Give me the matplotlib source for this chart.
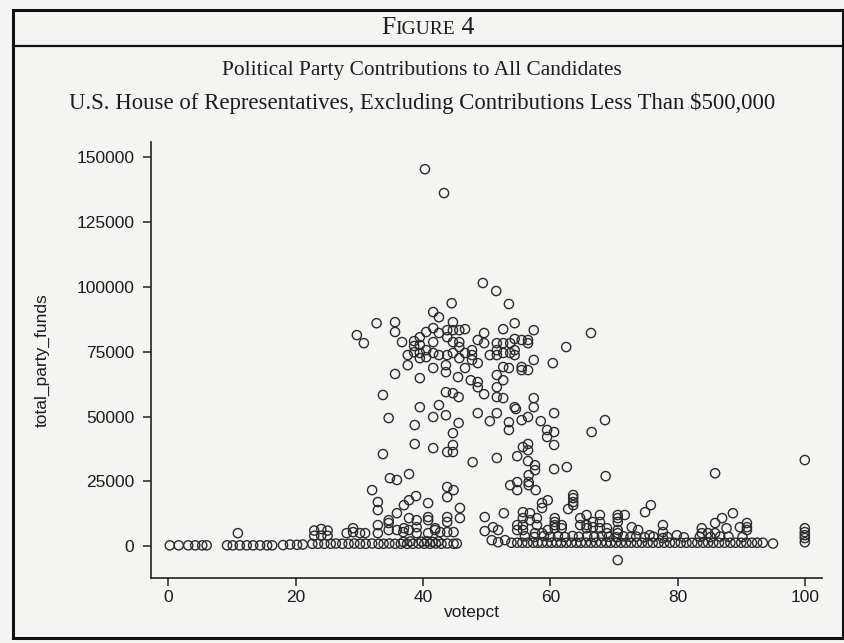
import matplotlib
matplotlib.use("Agg")
import matplotlib.pyplot as plt
from matplotlib.patches import Rectangle
from matplotlib.lines import Line2D
from matplotlib.offsetbox import TextArea, HPacker, AnchoredOffsetbox

# ---------------------------------------------------------------------------
# Data: (votepct, total_party_funds) pairs, grouped by contribution level
# ---------------------------------------------------------------------------
near_zero_low_vote = [
    (0.2, 300), (1.6, 300), (3.1, 300), (4.2, 300), (5.3, 300), (6.0, 300),
    (9.2, 300), (10.1, 300), (11.2, 300), (12.3, 300), (13.3, 300), (14.4, 300),
    (15.5, 300), (16.3, 300), (18.0, 400), (19.1, 600), (20.2, 500), (21.1, 600),
]

near_zero_mid_vote = [
    (22.6, 900), (23.5, 900), (24.5, 900), (25.5, 900), (26.3, 1000), (27.3, 900),
    (28.3, 900), (29.2, 1000), (30.1, 900), (31.0, 900), (32.0, 1000), (33.0, 900),
    (33.8, 900), (34.7, 1000), (35.6, 900), (36.5, 900), (36.9, 1600), (37.5, 900),
    (38.0, 1800), (38.4, 900), (39.3, 1000), (39.8, 1700), (40.2, 900), (40.6, 1900),
    (41.1, 900), (41.5, 1600), (42.0, 1000), (42.4, 1800), (42.9, 900), (43.8, 1000),
    (44.8, 900), (45.3, 1000),
]

near_zero_high_vote = [
    (53.9, 1300), (54.8, 1300), (55.6, 1300), (56.4, 1300), (57.3, 1300), (58.0, 1300),
    (58.7, 1300), (59.5, 1300), (60.2, 1300), (61.0, 1300), (61.7, 1300), (62.5, 1300),
    (63.3, 1300), (64.1, 1300), (64.8, 1300), (65.6, 1300), (66.4, 1300), (67.2, 1300),
    (68.0, 1300), (68.8, 1300), (69.5, 1300), (70.3, 1300), (71.1, 1300), (71.9, 1300),
    (72.7, 1300), (73.6, 1300), (74.4, 1300), (75.3, 1300), (76.1, 1300), (77.0, 1300),
    (77.9, 1300), (78.8, 1300), (79.6, 1300), (80.5, 1300), (81.4, 1300), (82.3, 1300),
    (83.1, 1300), (84.0, 1300), (84.8, 1300), (85.6, 1300), (86.5, 1300), (87.4, 1300),
    (88.3, 1300), (89.1, 1300), (90.0, 1300), (90.8, 1300), (91.7, 1300), (92.5, 1300),
    (93.4, 1300), (95.0, 1000),
    (56.0, 3800), (57.5, 3500), (59.0, 3900), (60.0, 3600), (61.2, 3800), (62.3, 3500),
    (63.5, 3900), (64.5, 3600), (65.8, 3800), (66.9, 3500), (68.1, 3900), (69.2, 3600),
    (70.4, 3400), (71.5, 3800), (72.6, 3500), (73.5, 3700), (74.8, 3400), (76.2, 3600),
    (78.4, 3500), (81.0, 3400), (83.5, 3600), (85.2, 3500), (86.7, 3700), (88.0, 3600),
    (90.2, 3500),
]

modest_funds = [
    (10.9, 5000),
    (22.9, 6000), (24.0, 6600), (25.0, 6000), (22.9, 4000), (24.0, 4000), (25.0, 4000),
    (28.0, 5000), (29.0, 5400), (29.0, 6900), (30.1, 5000), (30.9, 5000),
    (32.9, 5000), (32.9, 8100), (32.9, 13900), (32.9, 17000), (32.0, 21600),
    (34.6, 6200), (34.6, 8900), (34.6, 10000),
    (35.9, 6200), (35.9, 12700),
    (36.9, 5400), (37.0, 6900), (37.0, 15800),
    (37.8, 6200), (37.8, 10800), (37.8, 17700), (37.8, 27800),
    (39.0, 5000), (39.0, 7300), (39.0, 10000), (38.9, 19300),
    (34.8, 26200), (35.9, 25500),
    (40.8, 5000), (40.8, 10000), (40.8, 11200), (40.8, 16600),
    (41.9, 6200), (41.9, 6900), (42.7, 5400),
    (43.8, 5400), (43.8, 9300), (43.8, 11200), (43.8, 18900), (43.8, 22800),
    (44.8, 5400), (44.8, 21600),
    (45.8, 10800), (45.8, 14700),
    (47.8, 32400), (51.6, 34000), (54.8, 34700),
    (49.7, 11200), (49.7, 5800), (51.0, 7300), (51.8, 6200),
    (50.8, 2300), (51.8, 1500), (52.9, 2300),
    (52.7, 12700),
    (53.7, 23500), (54.8, 24700), (54.8, 21600),
    (54.8, 8100), (54.8, 6200), (55.7, 8100), (55.7, 6200),
    (55.7, 13100), (56.8, 12700), (55.7, 10800), (56.8, 10000),
    (55.7, 38200), (56.5, 39400), (56.5, 37000),
    (56.5, 32800), (57.6, 31200), (57.6, 29300),
    (56.6, 27400), (56.6, 24700), (56.6, 23500),
    (57.7, 21600),
    (57.9, 10800), (57.9, 8100),
    (57.6, 5000), (58.7, 5000), (59.6, 6200),
    (58.7, 16600), (58.7, 14700), (59.6, 17700),
    (60.6, 29700), (62.6, 30500),
    (60.7, 10800), (60.7, 9300), (60.7, 8100), (60.7, 6900),
    (61.8, 8100), (61.8, 6900),
    (63.6, 19700), (63.6, 18500), (63.6, 17000), (63.6, 15800), (62.8, 14300),
    (64.7, 10800), (65.7, 12000),
    (64.7, 8100), (65.7, 8100), (65.7, 6900), (66.7, 9300), (66.7, 7300),
    (67.8, 12000), (67.8, 9300), (67.8, 6900), (68.9, 6900), (68.9, 5000),
    (68.7, 27000),
    (70.6, 12000), (70.6, 10800), (70.6, 9300), (71.7, 12000),
    (70.6, 6200), (70.6, 5000),
    (70.6, -5400),
    (72.8, 7300), (73.8, 6200),
    (74.9, 13100), (75.8, 15800),
    (75.6, 4200),
    (77.7, 8100), (77.7, 5400), (77.7, 3100),
    (79.9, 4200),
    (83.8, 6900), (83.8, 5000), (84.8, 5000), (85.9, 5000),
    (85.9, 8900), (87.0, 10800), (88.7, 12700),
    (87.7, 6900),
    (89.8, 7300), (90.9, 8900), (90.9, 7300), (90.9, 6200),
    (85.9, 28100),
    (100.0, 33200),
    (100.0, 6900), (100.0, 5400), (100.0, 4200), (100.0, 3100), (100.0, 1500),
]

large_funds = [
    (40.3, 145400), (43.3, 136200),
    (49.4, 101500), (51.5, 98400), (53.5, 93400), (44.5, 93700), (41.6, 90300),
    (42.5, 88300),
    (54.4, 86000), (57.4, 83300), (66.4, 82200), (62.5, 76800), (60.4, 70600),
    (57.4, 71800),
    (52.6, 83700), (49.6, 82200),
    (51.6, 78300), (52.6, 78300), (53.7, 78300),
    (54.4, 79900), (55.5, 79500), (56.5, 79500), (56.5, 78300),
    (50.5, 73700), (51.6, 75600), (51.6, 73700), (52.6, 74500), (53.7, 74500),
    (54.4, 75600), (54.4, 73700),
    (52.6, 69100), (53.5, 68700),
    (55.5, 69100), (55.5, 67900), (56.5, 67900),
    (29.6, 81400), (30.7, 78300), (32.7, 86000), (35.6, 86400), (35.6, 82600),
    (36.7, 78700),
    (38.6, 79100), (38.6, 77200), (38.6, 74800),
    (39.5, 80600), (39.5, 77600), (39.5, 74500), (39.5, 72500),
    (40.5, 82600), (40.5, 75600), (40.5, 72900),
    (41.6, 84100), (41.6, 78700), (41.6, 74500),
    (42.5, 82200), (42.5, 73700),
    (43.8, 83300), (43.8, 80600), (43.8, 73700),
    (44.7, 86400), (44.7, 83300), (44.7, 78700), (44.7, 74500),
    (45.7, 83300), (45.7, 78700), (45.7, 76800), (45.7, 72500),
    (46.6, 83700), (46.6, 74500),
    (47.7, 75600), (47.7, 73700), (47.7, 71800),
    (48.6, 79500), (48.6, 70600),
    (49.6, 78300),
    (37.6, 73700), (37.6, 69800),
    (35.6, 66400), (39.5, 64800), (41.6, 68700), (43.6, 69800), (43.6, 67100),
    (46.6, 68700), (45.5, 65200), (47.5, 64000), (48.6, 63300), (48.6, 61300),
    (51.6, 66000), (51.6, 61300), (52.6, 64000),
    (33.7, 58300), (39.5, 53600), (42.5, 54400),
    (43.6, 59400), (44.7, 59000), (45.6, 57500),
    (49.6, 58600), (51.6, 57500), (52.6, 57100), (54.4, 53600), (57.4, 57100),
    (57.4, 53600),
    (34.6, 49400), (41.6, 49800), (43.6, 50500), (38.7, 46700), (45.6, 47500),
    (44.7, 43600),
    (48.6, 51300), (50.5, 48200), (51.6, 51300), (54.6, 52900), (53.5, 47800),
    (53.5, 44800),
    (55.5, 48600), (56.5, 49800), (58.5, 48200), (59.5, 44800), (60.6, 44000),
    (59.5, 42100),
    (60.6, 51300), (60.6, 39000), (66.5, 44000), (68.6, 48600),
    (38.7, 39400), (41.6, 37800), (43.8, 36300), (44.7, 39000), (44.7, 36300),
    (33.7, 35500),
]

x_ticks = [0, 20, 40, 60, 80, 100]
y_ticks = [0, 25000, 50000, 75000, 100000, 125000, 150000]

figure_label = ("F", "IGURE", " 4")
title_lines = [
    "Political Party Contributions to All Candidates",
    "U.S. House of Representatives, Excluding Contributions Less Than $500,000",
]

# ---------------------------------------------------------------------------
W, H = 845, 643
paper = "#f4f4f2"
ink = "#1c1c1c"
serif = ["Liberation Serif", "DejaVu Serif"]
sans = ["Liberation Sans", "DejaVu Sans"]

fig = plt.figure(figsize=(W / 100, H / 100), dpi=100)
fig.patch.set_facecolor(paper)


def fx(px):
    return px / W


def fy(py):
    return 1 - py / H


# page frame and the rule under the figure label
fig.add_artist(Rectangle((fx(13), fy(638)), fx(843) - fx(13), fy(10) - fy(638),
                         transform=fig.transFigure, fill=False,
                         edgecolor="#111111", linewidth=2.2))
fig.add_artist(Line2D([fx(13), fx(843)], [fy(46), fy(46)],
                      transform=fig.transFigure, color="#111111", linewidth=1.6))

# "FIGURE 4" in small capitals
parts = [
    TextArea(figure_label[0], textprops=dict(size=18.5, family=serif, color=ink)),
    TextArea(figure_label[1], textprops=dict(size=14, family=serif, color=ink)),
    TextArea(figure_label[2], textprops=dict(size=18.5, family=serif, color=ink)),
]
packed = HPacker(children=parts, align="baseline", pad=0, sep=0)
fig.add_artist(AnchoredOffsetbox(loc="center", child=packed, frameon=False, pad=0,
                                 borderpad=0, bbox_to_anchor=(fx(428), fy(28)),
                                 bbox_transform=fig.transFigure))

fig.text(fx(422), fy(70), title_lines[0], ha="center", va="center",
         fontsize=15.4, family=serif, color=ink)
fig.text(fx(422), fy(103), title_lines[1], ha="center", va="center",
         fontsize=16.4, family=serif, color=ink)

# scatter panel
ax_left, ax_right, ax_top, ax_bottom = 151, 822, 142, 578
ax = fig.add_axes([fx(ax_left), fy(ax_bottom), fx(ax_right) - fx(ax_left),
                   fy(ax_top) - fy(ax_bottom)])
ax.set_facecolor("none")

for group in (near_zero_low_vote, near_zero_mid_vote, near_zero_high_vote,
              modest_funds, large_funds):
    votes = [p[0] for p in group]
    funds = [p[1] for p in group]
    ax.scatter(votes, funds, s=44, facecolors="none", edgecolors="#2b2b2b",
               linewidths=1.0, zorder=3)

ax.set_xlim(-2.75, 102.7)
ax.set_ylim(-12300, 155900)
ax.set_xticks(x_ticks)
ax.set_yticks(y_ticks)
ax.set_xticklabels([str(t) for t in x_ticks])
ax.set_yticklabels([str(t) for t in y_ticks])

for side in ("top", "right"):
    ax.spines[side].set_visible(False)
for side in ("left", "bottom"):
    ax.spines[side].set_color("#222222")
    ax.spines[side].set_linewidth(1.2)

ax.tick_params(axis="both", direction="out", length=6, width=1.1, color="#222222",
               labelsize=12.5, labelcolor=ink)
ax.tick_params(axis="y", pad=6)
ax.tick_params(axis="x", pad=3)
for lab in ax.get_xticklabels() + ax.get_yticklabels():
    lab.set_family(sans)

ax.set_xlabel("votepct", fontsize=12.5, family=sans, color=ink)
ax.set_ylabel("total_party_funds", fontsize=12.5, family=sans, color=ink)
ax.xaxis.set_label_coords((472 - ax_left) / (ax_right - ax_left),
                          -27 / (ax_bottom - ax_top))
ax.yaxis.set_label_coords((50 - ax_left) / (ax_right - ax_left), 0.5)

fig.savefig("out.png", dpi=100, facecolor=paper)
